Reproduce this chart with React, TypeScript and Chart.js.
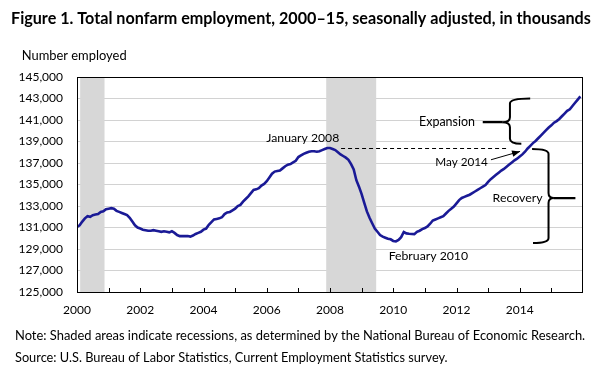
import React, { useEffect, useRef } from "react";
import { Chart, registerables } from "chart.js";

Chart.register(...registerables);

// ---- Data (thousands, seasonally adjusted, monthly) ----
const firstYear = 2000;
const emp2000 = [131050, 131200, 131550, 131850, 132050, 132000, 132150, 132200, 132250, 132450, 132500, 132700];
const emp2001 = [132750, 132800, 132750, 132550, 132450, 132350, 132250, 132150, 131900, 131550, 131200, 131000];
const emp2002 = [130900, 130800, 130750, 130700, 130700, 130750, 130700, 130650, 130600, 130650, 130600, 130550];
const emp2003 = [130650, 130500, 130300, 130200, 130200, 130200, 130200, 130150, 130250, 130400, 130500, 130600];
const emp2004 = [130800, 130900, 131250, 131500, 131750, 131800, 131850, 131950, 132250, 132400, 132450, 132600];
const emp2005 = [132750, 133000, 133100, 133400, 133650, 133900, 134200, 134500, 134550, 134650, 134900, 135050];
const emp2006 = [135300, 135650, 136000, 136200, 136250, 136300, 136500, 136700, 136850, 136900, 137050, 137200];
const emp2007 = [137550, 137700, 137850, 137950, 138050, 138100, 138100, 138050, 138100, 138200, 138300, 138400];
const emp2008 = [138400, 138300, 138200, 138000, 137800, 137650, 137500, 137300, 136900, 136400, 135400, 134800];
const emp2009 = [134100, 133300, 132500, 131900, 131400, 130900, 130600, 130300, 130150, 130050, 129950, 129900];
const emp2010 = [129750, 129700, 129850, 130100, 130580, 130450, 130420, 130400, 130380, 130600, 130700, 130850];
const emp2011 = [130950, 131100, 131350, 131650, 131750, 131850, 131950, 132050, 132300, 132550, 132750, 132950];
const emp2012 = [133250, 133550, 133750, 133850, 133950, 134050, 134200, 134350, 134500, 134650, 134800, 134950];
const emp2013 = [135250, 135500, 135700, 135900, 136100, 136300, 136450, 136650, 136850, 137050, 137250, 137400];
const emp2014 = [137600, 137800, 138050, 138350, 138600, 138850, 139050, 139300, 139550, 139800, 140050, 140300];
const emp2015 = [140500, 140750, 140900, 141100, 141350, 141600, 141850, 142000, 142300, 142600, 142900, 143200];

const yearlySeries = [
  emp2000, emp2001, emp2002, emp2003, emp2004, emp2005, emp2006, emp2007,
  emp2008, emp2009, emp2010, emp2011, emp2012, emp2013, emp2014, emp2015,
];

// Recession shading (as drawn in the figure, in fractional years)
const recessionStarts = [2000.1, 2007.88];
const recessionEnds = [2000.87, 2009.46];

// Axis
const xTickLabels = ["2000", "2002", "2004", "2006", "2008", "2010", "2012", "2014"];
const yMin = 125000;
const yMax = 145000;
const yStep = 2000;

// Texts
const titleText = "Figure 1. Total nonfarm employment, 2000\u201315, seasonally adjusted, in thousands";
const yAxisTitle = "Number employed";
const noteText = "Note: Shaded areas indicate recessions, as determined by the National Bureau of Economic Research.";
const sourceText = "Source: U.S. Bureau of Labor Statistics, Current Employment Statistics survey.";

// Annotation reference values
const peakValue = 138400; // January 2008 level
const expansionTop = 143000;
const expansionBottom = 138800;
const expansionMid = 140800;
const recoveryTop = 138300;
const recoveryBottom = 129560;
const recoveryMid = 133740;

const FONT = "Lato, 'Open Sans', 'DejaVu Sans', sans-serif";

function buildPoints() {
  const pts: { x: number; y: number }[] = [];
  yearlySeries.forEach((arr, yi) => {
    arr.forEach((v, m) => pts.push({ x: firstYear + yi + m / 12, y: v }));
  });
  return pts;
}

function fitText(ctx: CanvasRenderingContext2D, text: string, weight: string, target: number) {
  ctx.font = `${weight} 100px ${FONT}`;
  const w = ctx.measureText(text).width;
  const size = (100 * target) / w;
  ctx.font = `${weight} ${size.toFixed(2)}px ${FONT}`;
  return size;
}

const figurePlugin = {
  id: "figurePlugin",
  beforeDatasetsDraw(chart: any) {
    const { ctx, chartArea, scales } = chart;
    const x = scales.x;
    ctx.save();
    ctx.fillStyle = "#d7d7d7";
    recessionStarts.forEach((s, i) => {
      const x0 = x.getPixelForValue(s);
      const x1 = x.getPixelForValue(recessionEnds[i]);
      ctx.fillRect(x0, chartArea.top, x1 - x0, chartArea.bottom - chartArea.top);
    });
    ctx.restore();
  },
  afterDatasetsDraw(chart: any) {
    const { ctx, chartArea, scales } = chart;
    const x = scales.x;
    const y = scales.y;
    const px = (v: number) => x.getPixelForValue(v);
    const py = (v: number) => y.getPixelForValue(v);
    ctx.save();

    // frame
    ctx.strokeStyle = "#000";
    ctx.lineWidth = 1;
    ctx.strokeRect(
      Math.round(chartArea.left) + 0.5,
      Math.round(chartArea.top) + 0.5,
      Math.round(chartArea.right - chartArea.left) - 1,
      Math.round(chartArea.bottom - chartArea.top)
    );

    // inner tick marks
    ctx.beginPath();
    for (let yr = 2001; yr < 2016; yr++) {
      const xx = Math.round(px(yr)) + 0.5;
      ctx.moveTo(xx, chartArea.bottom);
      ctx.lineTo(xx, chartArea.bottom - 4);
    }
    ctx.stroke();

    // dashed peak reference line
    ctx.setLineDash([4, 3]);
    ctx.beginPath();
    const yPeak = Math.round(py(peakValue)) + 0.5;
    ctx.moveTo(px(2008.35), yPeak);
    ctx.lineTo(px(2013.57), yPeak);
    ctx.stroke();
    ctx.setLineDash([]);

    // arrow to May 2014
    const ax0 = px(2013.09), ay0 = py(137300);
    const ax1 = px(2014.01), ay1 = py(138080);
    ctx.beginPath();
    ctx.moveTo(ax0, ay0);
    ctx.lineTo(ax1, ay1);
    ctx.stroke();
    const ang = Math.atan2(ay1 - ay0, ax1 - ax0);
    ctx.beginPath();
    ctx.moveTo(ax1, ay1);
    ctx.lineTo(ax1 - 8 * Math.cos(ang) + 3.2 * Math.sin(ang), ay1 - 8 * Math.sin(ang) - 3.2 * Math.cos(ang));
    ctx.lineTo(ax1 - 8 * Math.cos(ang) - 3.2 * Math.sin(ang), ay1 - 8 * Math.sin(ang) + 3.2 * Math.cos(ang));
    ctx.closePath();
    ctx.fillStyle = "#000";
    ctx.fill();

    // braces
    const brace = (spine: number, tip: number, endTop: number, endBot: number, top: number, mid: number, bot: number) => {
      const sx = px(spine), tx = px(tip), e1 = px(endTop), e2 = px(endBot);
      const y1 = py(top), ym = py(mid), y2 = py(bot);
      const r = 5;
      ctx.beginPath();
      ctx.moveTo(e1, y1);
      ctx.quadraticCurveTo(sx, y1, sx, y1 + r);
      ctx.lineTo(sx, ym - r);
      ctx.quadraticCurveTo(sx, ym, tx, ym);
      ctx.quadraticCurveTo(sx, ym, sx, ym + r);
      ctx.lineTo(sx, y2 - r);
      ctx.quadraticCurveTo(sx, y2, e2, y2);
      ctx.stroke();
    };
    ctx.lineWidth = 2;
    brace(2013.69, 2013.45, 2014.33, 2014.05, expansionTop, expansionMid, expansionBottom);
    brace(2014.91, 2015.08, 2014.39, 2014.42, recoveryTop, recoveryMid, recoveryBottom);

    // leader lines
    ctx.lineWidth = 2.2;
    ctx.beginPath();
    ctx.moveTo(px(2012.83), py(expansionMid));
    ctx.lineTo(px(2013.46), py(expansionMid));
    ctx.moveTo(px(2015.07), py(recoveryMid));
    ctx.lineTo(px(2015.76), py(recoveryMid));
    ctx.stroke();

    // annotation labels
    ctx.fillStyle = "#000";
    ctx.textBaseline = "middle";
    ctx.textAlign = "center";
    const label = (t: string, xv: number, yv: number, w: number) => {
      fitText(ctx, t, "normal", w);
      ctx.fillText(t, px(xv), py(yv));
    };
    label("January 2008", 2007.14, 139350, 73);
    label("May 2014", 2012.16, 137060, 52.7);
    label("Expansion", 2011.7, 140780, 56);
    label("Recovery", 2013.93, 133740, 50);
    label("February 2010", 2011.11, 128310, 79.4);

    ctx.restore();
  },
  afterDraw(chart: any) {
    const { ctx } = chart;
    ctx.save();
    ctx.fillStyle = "#000";
    ctx.textAlign = "left";
    ctx.textBaseline = "alphabetic";
    fitText(ctx, titleText, "bold", 580);
    ctx.fillText(titleText, 11, 24);
    fitText(ctx, yAxisTitle, "normal", 105);
    ctx.fillText(yAxisTitle, 21.7, 59.5);
    fitText(ctx, noteText, "normal", 571);
    ctx.fillText(noteText, 15, 340);
    fitText(ctx, sourceText, "normal", 433);
    ctx.fillText(sourceText, 15, 361.7);
    ctx.restore();
  },
};

export default function App() {
  const canvasRef = useRef<HTMLCanvasElement | null>(null);

  useEffect(() => {
    const canvas = canvasRef.current;
    if (!canvas) return;
    const chart = new Chart(canvas, {
      type: "line",
      data: {
        datasets: [
          {
            label: "Total nonfarm employment",
            data: buildPoints(),
            borderColor: "#1a1a96",
            borderWidth: 2.6,
            pointRadius: 0,
            tension: 0,
            fill: false,
          },
        ],
      },
      options: {
        animation: false,
        responsive: false,
        devicePixelRatio: 1,
        layout: { padding: { left: 0, top: 77, right: 21, bottom: 0 } },
        plugins: {
          legend: { display: false },
          tooltip: { enabled: false },
          title: { display: false },
        },
        scales: {
          x: {
            type: "linear",
            min: 2000,
            max: 2016,
            afterFit: (s: any) => {
              s.height = 81;
            },
            grid: { display: false, drawTicks: false },
            border: { display: false },
            ticks: {
              stepSize: 1,
              autoSkip: false,
              maxRotation: 0,
              padding: 11,
              color: "#000",
              font: { family: FONT, size: 12 },
              callback: (v: any) => {
                const s = String(v);
                return xTickLabels.includes(s) ? s : "";
              },
            },
          },
          y: {
            min: yMin,
            max: yMax,
            afterFit: (s: any) => {
              s.width = 77;
            },
            grid: { color: "#d2d2d2", lineWidth: 1, drawTicks: false },
            border: { display: false },
            ticks: {
              stepSize: yStep,
              padding: 14,
              color: "#000",
              font: { family: FONT, size: 12 },
              callback: (v: any) => Number(v).toLocaleString("en-US"),
            },
          },
        },
      },
      plugins: [figurePlugin],
    });
    return () => chart.destroy();
  }, []);

  return (
    <div style={{ position: "absolute", left: 0, top: 0, width: 604, height: 373, background: "#fff" }}>
      <canvas ref={canvasRef} width={604} height={373} style={{ width: 604, height: 373, display: "block" }} />
    </div>
  );
}
